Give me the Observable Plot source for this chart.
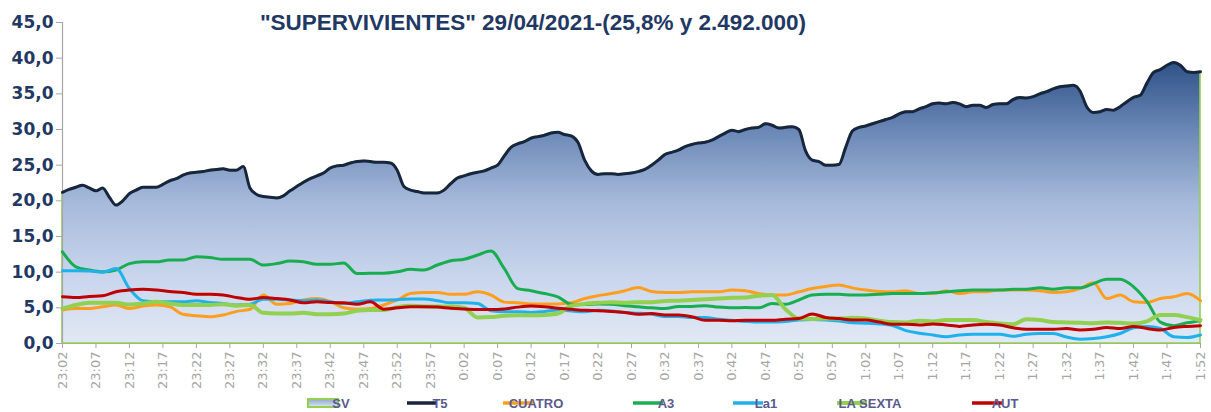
<!DOCTYPE html>
<html>
<head>
<meta charset="utf-8">
<script src="https://cdn.jsdelivr.net/npm/d3@7"></script>
<script src="https://cdn.jsdelivr.net/npm/@observablehq/plot@0.6"></script>
<style>
  html, body { margin: 0; padding: 0; background: #ffffff; }
  #chart { width: 1211px; height: 412px; overflow: hidden; }
</style>
</head>
<body>
<div id="chart"></div>
<script>
// ---------- DATA ----------
const titleText = "\"SUPERVIVIENTES\" 29/04/2021-(25,8% y 2.492.000)";

const xTickLabels = ["23:02","23:07","23:12","23:17","23:22","23:27","23:32","23:37","23:42","23:47",
  "23:52","23:57","0:02","0:07","0:12","0:17","0:22","0:27","0:32","0:37","0:42","0:47",
  "0:52","0:57","1:02","1:07","1:12","1:17","1:22","1:27","1:32","1:37","1:42","1:47","1:52"];
const yTicks = [0, 5, 10, 15, 20, 25, 30, 35, 40, 45];

const seriesNames = ["SV", "T5", "CUATRO", "A3", "La1", "LA SEXTA", "AUT"];
const seriesColors = ["#92D050", "#17253F", "#FF9E1E", "#18AE50", "#1EB1EC", "#92D050", "#C00000"];

// T5: one reading per minute from 23:02
const T5 = [
  21.2,21.6,21.9,22.2,21.8,21.4,21.8,20.5,19.4,20.0,
  21.0,21.5,21.9,21.9,21.9,22.3,22.8,23.1,23.6,23.9,
  24.0,24.1,24.3,24.4,24.5,24.3,24.3,24.8,21.8,20.9,
  20.6,20.5,20.4,20.7,21.4,22.0,22.6,23.1,23.5,23.9,
  24.6,24.9,25.0,25.3,25.5,25.6,25.5,25.4,25.4,25.3,
  24.3,22.0,21.5,21.3,21.1,21.1,21.1,21.5,22.4,23.2,
  23.5,23.8,24.0,24.2,24.6,25.0,26.3,27.5,28.0,28.3,
  28.8,29.0,29.2,29.5,29.6,29.3,29.1,28.2,25.7,24.2,
  23.7,23.8,23.8,23.7,23.8,23.9,24.1,24.4,25.0,25.7,
  26.5,26.8,27.1,27.6,27.9,28.1,28.2,28.5,29.0,29.5,
  29.9,29.7,30.0,30.2,30.3,30.8,30.6,30.2,30.3,30.4,
  30.0,27.0,25.7,25.5,25.0,25.0,25.1,27.5,29.8,30.3,
  30.5,30.8,31.1,31.4,31.7,32.2,32.5,32.5,32.9,33.2,
  33.6,33.7,33.6,33.8,33.6,33.2,33.4,33.4,33.1,33.5,
  33.6,33.6,34.2,34.5,34.4,34.6,35.0,35.3,35.7,36.0,
  36.1,36.2,35.4,33.2,32.4,32.5,32.8,32.7,33.2,33.9,
  34.5,34.8,36.5,38.0,38.4,39.0,39.4,39.0,38.1,38.0,
  38.1];
// SV (programme area) follows the T5 curve
const SV = T5.slice();

// Other channels: one reading every 2 minutes from 23:02
const CUATRO = [
  4.7,4.9,4.9,5.15,5.4,4.9,5.25,5.4,5.15,4.1,
  3.9,3.75,4.0,4.5,4.8,6.8,5.5,5.6,6.1,6.3,
  5.9,5.0,4.8,4.9,5.4,6.1,7.0,7.15,7.15,6.9,
  6.9,7.25,6.8,5.8,5.7,5.55,5.55,5.55,5.7,6.3,
  6.7,7.0,7.4,7.85,7.3,7.15,7.15,7.25,7.25,7.25,
  7.5,7.4,7.0,6.8,6.8,7.25,7.7,8.0,8.2,7.8,
  7.5,7.3,7.25,7.4,7.0,7.0,7.4,7.0,7.25,7.25,
  7.5,7.5,7.5,7.4,7.15,7.25,7.7,8.5,6.3,6.8,
  5.85,5.75,6.3,6.55,7.0,6.0];
const A3 = [
  12.85,10.75,10.3,10.05,10.3,11.2,11.45,11.45,11.7,11.7,
  12.15,12.05,11.8,11.8,11.8,11.0,11.2,11.55,11.45,11.1,
  11.1,11.3,9.8,9.85,9.85,10.05,10.4,10.3,11.0,11.6,
  11.8,12.4,12.95,10.5,7.7,7.4,7.0,6.55,5.5,5.45,
  5.55,5.5,5.3,5.15,5.0,4.9,5.2,5.2,5.3,5.1,
  5.0,5.05,5.0,5.6,5.5,6.1,6.8,6.9,6.9,6.8,
  6.8,6.9,7.0,7.0,7.0,7.1,7.25,7.4,7.5,7.5,
  7.5,7.6,7.6,7.8,7.6,7.8,7.8,8.4,9.0,9.0,
  7.95,5.9,3.0,2.5,2.9,3.2];
const LA1 = [
  10.2,10.2,10.15,10.0,10.5,7.7,6.0,5.85,5.85,5.85,
  6.0,5.75,5.6,5.4,5.5,6.2,6.2,6.1,6.0,6.1,
  5.85,5.6,5.85,6.05,6.1,6.15,6.25,6.25,6.0,5.7,
  5.7,5.6,4.6,4.45,4.45,4.35,4.5,4.7,4.55,4.45,
  4.65,4.55,4.35,4.25,4.1,3.8,3.8,3.65,3.65,3.4,
  3.25,3.1,3.0,3.0,3.1,3.3,3.35,3.3,3.15,2.9,
  2.85,2.75,2.5,1.8,1.45,1.2,0.95,1.2,1.3,1.3,
  1.3,1.0,1.3,1.4,1.4,0.9,0.6,0.7,0.95,1.4,
  2.2,2.4,2.1,0.95,0.85,1.2];
const LASEXTA = [
  4.9,5.4,5.7,5.7,5.7,5.45,5.6,5.85,5.6,5.4,
  5.4,5.4,5.5,5.3,5.4,4.3,4.2,4.2,4.3,4.1,
  4.1,4.2,4.6,4.7,4.7,5.1,5.3,5.2,5.2,5.2,
  5.0,3.65,3.7,3.9,3.95,3.95,4.0,4.2,5.3,5.55,
  5.7,5.8,5.7,5.8,5.8,5.95,6.0,6.1,6.2,6.3,
  6.4,6.45,6.7,6.8,4.8,3.5,3.45,3.5,3.5,3.6,
  3.5,3.2,3.0,2.95,3.2,3.1,3.3,3.3,3.3,3.0,
  2.8,2.7,3.4,3.3,3.0,2.95,2.9,2.85,2.95,2.9,
  2.8,3.1,4.0,4.0,3.7,3.3];
const AUT = [
  6.55,6.45,6.6,6.7,7.25,7.5,7.6,7.5,7.3,7.15,
  6.9,6.9,6.8,6.45,6.2,6.45,6.3,6.1,5.7,5.85,
  5.75,5.7,5.5,5.85,4.8,5.0,5.15,5.15,5.1,4.95,
  4.85,4.75,4.75,4.85,5.1,5.25,5.15,4.95,4.8,4.65,
  4.6,4.5,4.35,4.1,4.2,4.0,4.0,3.75,3.25,3.25,
  3.2,3.25,3.25,3.25,3.4,3.5,4.15,3.65,3.5,3.3,
  3.3,3.0,2.7,2.7,2.6,2.75,2.6,2.4,2.6,2.7,
  2.6,2.2,2.0,2.0,2.0,2.1,1.9,2.0,2.25,2.1,
  2.4,2.1,1.9,2.25,2.4,2.5];

// ---------- BUILD ----------
const minutesEvery1 = d3.range(T5.length);
const minutesEvery2 = d3.range(CUATRO.length).map(i => i * 2);
const xTickMinutes = xTickLabels.map((_, i) => i * 5);

const svData = SV.map((v, i) => ({m: minutesEvery1[i], v}));
const t5Data = T5.map((v, i) => ({m: minutesEvery1[i], v}));
const otherSeries = [
  {name: "CUATRO", values: CUATRO, width: 3},
  {name: "A3", values: A3, width: 3},
  {name: "La1", values: LA1, width: 3},
  {name: "LA SEXTA", values: LASEXTA, width: 4},
  {name: "AUT", values: AUT, width: 3}
];
const colorOf = name => seriesColors[seriesNames.indexOf(name)];

const fmtY = d => d.toFixed(1).replace(".", ",");

const marks = [
  Plot.ruleY([0], {stroke: "#A6A6A6"}),
  Plot.areaY(svData, {x: "m", y: "v", fill: "url(#svFill)", stroke: colorOf("SV"), strokeWidth: 1.6, curve: "monotone-x"}),
  Plot.ruleX([0], {stroke: "#A6A6A6", strokeWidth: 1.2}),
  Plot.line(t5Data, {x: "m", y: "v", stroke: colorOf("T5"), strokeWidth: 3, curve: "monotone-x"})
];
for (const s of otherSeries) {
  const data = s.values.map((v, i) => ({m: minutesEvery2[i], v}));
  marks.push(Plot.line(data, {x: "m", y: "v", stroke: colorOf(s.name), strokeWidth: s.width, curve: "monotone-x"}));
}
marks.push(
  Plot.axisY({ticks: yTicks, tickFormat: fmtY, tickSize: 6, tickPadding: 3,
    fill: "#1F3864", stroke: "#A6A6A6", fontSize: 17, fontWeight: "bold", fontFamily: "DejaVu Sans", label: null}),
  Plot.axisX({ticks: xTickMinutes, tickFormat: d => xTickLabels[Math.round(d / 5)], tickRotate: -90,
    tickSize: 5, tickPadding: 3, fill: "#A6A6A6", stroke: "#A6A6A6", fontSize: 13, fontFamily: "DejaVu Sans", label: null})
);

const chart = Plot.plot({
  width: 1211,
  height: 412,
  marginLeft: 62,
  marginRight: 11,
  marginTop: 22,
  marginBottom: 69,
  x: {domain: [0, 170]},
  y: {domain: [0, 45]},
  style: {background: "#ffffff", fontFamily: "DejaVu Sans", overflow: "hidden"},
  marks
});

const svg = d3.select(chart);
const defs = svg.insert("defs", ":first-child");
const g1 = defs.append("linearGradient").attr("id", "svFill").attr("x1", 0).attr("y1", 0).attr("x2", 0).attr("y2", 1);
[[0, "#2F5288"], [0.25, "#6C89B7"], [0.5, "#A7BADB"], [0.75, "#C7D4EC"], [1, "#E2E9F5"]]
  .forEach(([o, c]) => g1.append("stop").attr("offset", o).attr("stop-color", c));
const g2 = defs.append("linearGradient").attr("id", "svLegend").attr("x1", 0).attr("y1", 0).attr("x2", 0).attr("y2", 1);
[[0, "#8EA6CF"], [1, "#DCE5F3"]].forEach(([o, c]) => g2.append("stop").attr("offset", o).attr("stop-color", c));

// Title
svg.append("text")
  .attr("x", 533).attr("y", 30)
  .attr("text-anchor", "middle")
  .attr("font-family", "'Liberation Sans', Arial, sans-serif")
  .attr("font-weight", "bold")
  .attr("font-size", 22.5)
  .attr("fill", "#1F3864")
  .text(titleText);

// Legend
const legendX = [308, 407, 503, 633, 733, 837, 972];
const lg = svg.append("g");
seriesNames.forEach((name, i) => {
  const x = legendX[i];
  if (name === "SV") {
    lg.append("rect").attr("x", x).attr("y", 399).attr("width", 30).attr("height", 8)
      .attr("fill", "url(#svLegend)").attr("stroke", colorOf("SV")).attr("stroke-width", 2);
  } else {
    lg.append("line").attr("x1", x).attr("x2", x + 30).attr("y1", 403).attr("y2", 403)
      .attr("stroke", seriesColors[i]).attr("stroke-width", name === "LA SEXTA" ? 4 : 3.5);
  }
  lg.append("text").attr("x", x + 33).attr("y", 407.5)
    .attr("font-family", "'Liberation Sans Narrow', 'Liberation Sans', Arial, sans-serif")
    .attr("font-weight", "bold").attr("font-size", 13).attr("fill", "#5A5A8C")
    .text(name);
});

document.getElementById("chart").appendChild(chart);
</script>
</body>
</html>
